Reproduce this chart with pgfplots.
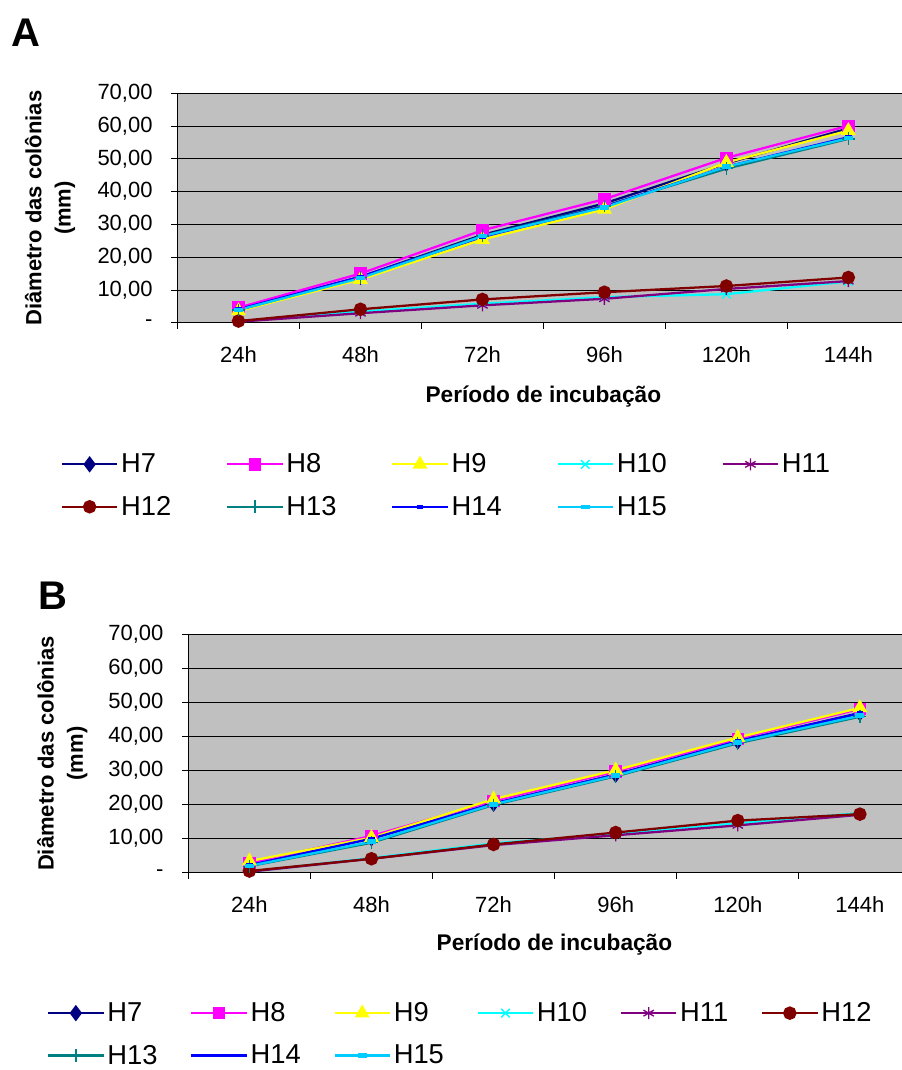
\documentclass[border=0pt]{standalone}
\usepackage{fontspec}
\setmainfont{Liberation Sans}
\usepackage{pgfplots}
\usepackage{pgfplotstable}
\pgfplotsset{compat=1.18}

\definecolor{cnavy}{HTML}{000080}
\definecolor{cmag}{HTML}{FF00FF}
\definecolor{cyel}{HTML}{FFFF00}
\definecolor{ccyan}{HTML}{00FFFF}
\definecolor{cpurp}{HTML}{800080}
\definecolor{cmaroon}{HTML}{800000}
\definecolor{cteal}{HTML}{008080}
\definecolor{cblue}{HTML}{0000FF}
\definecolor{csky}{HTML}{00CCFF}
\definecolor{plotgray}{HTML}{C0C0C0}

% diametro (mm) por hora de incubacao
\pgfplotstableread{
x  H7   H8   H9   H10  H11  H12  H13  H14  H15
0  4.0  4.6  3.6  0.4  0.3  0.5  3.9  4.1  3.9
1  14.0 15.0 13.2 3.4  2.9  4.1  13.8 14.0 13.6
2  26.8 28.2 25.4 5.8  5.3  7.1  26.5 26.2 26.4
3  36.4 37.7 34.6 7.8  7.3  9.3  35.6 35.4 35.2
4  48.6 50.3 48.9 8.7  10.3 11.2 47.0 47.6 47.6
5  59.3 60.1 58.6 12.6 12.7 13.8 56.1 56.6 56.3
}\dataA

\pgfplotstableread{
x  H7   H8   H9   H10  H11  H12  H13  H14  H15
0  2.2  2.9  3.4  0.3  0.3  0.5  1.9  2.2  2.0
1  10.1 10.8 10.3 4.3  4.1  4.1  8.8  10.0 9.1
2  20.3 21.1 21.6 8.6  8.1  8.3  19.9 20.3 20.1
3  28.8 29.7 30.1 11.4 11.0 11.8 28.3 28.8 28.5
4  38.6 39.3 39.7 14.5 13.9 15.3 38.0 38.6 38.3
5  46.9 48.1 48.4 17.5 17.0 17.2 45.8 46.8 46.1
}\dataB

\pgfplotsset{
  sH7/.style={color=cnavy, mark=diamond*, mark size=4.8pt},
  sH8/.style={color=cmag, mark=square*, mark size=3.8pt},
  sH9/.style={color=cyel, mark=triangle*, mark size=4.8pt},
  sH10/.style={color=ccyan, mark=x, mark size=4.5pt, mark options={line width=1pt}},
  sH11/.style={color=cpurp, mark=asterisk, mark size=4.5pt, mark options={line width=1pt}},
  sH12/.style={color=cmaroon, mark=*, mark size=4.2pt},
  sH13/.style={color=cteal, mark=+, mark size=4.8pt, mark options={line width=1pt}},
  sH14/.style={color=cblue, mark=-, mark size=2.4pt, mark options={line width=2.8pt}},
  sH15/.style={color=csky, mark=-, mark size=3.4pt, mark options={line width=3.4pt}},
  excel/.style={
    scale only axis,
    axis background/.style={fill=plotgray},
    axis x line=bottom, axis y line=left,
    axis line style={-, black, line width=0.8pt},
    xmin=-0.5, ymin=0, ymax=70,
    xtick={0,...,5},
    xticklabels={24h,48h,72h,96h,120h,144h},
    minor xtick={-0.5,0.5,1.5,2.5,3.5,4.5},
    major x tick style={draw=none},
    minor x tick style={black, line width=0.6pt},
    ytick={0,10,...,70},
    yticklabels={{-},{10,00},{20,00},{30,00},{40,00},{50,00},{60,00},{70,00}},
    y tick style={black, line width=0.6pt},
    tick align=outside,
    major tick length=4.5pt, minor tick length=4.5pt,
    ymajorgrids,
    major grid style={black, line width=0.6pt},
    tick label style={font=\fontsize{16.5}{19}\selectfont, inner sep=0pt},
    xticklabel style={anchor=base, yshift=-25pt},
    yticklabel style={anchor=east, xshift=-14pt},
    ylabel={Diâmetro das colônias\\(mm)},
    ylabel style={font=\fontsize{16.5}{22}\bfseries\selectfont, align=center, anchor=center, rotate=0},
    xlabel={Período de incubação},
    xlabel style={font=\fontsize{17}{20}\bfseries\selectfont, anchor=base},
    every axis plot/.append style={line width=1.7pt},
    every mark/.append style={solid},
    legend image code/.code={\draw[mark repeat=2,mark phase=2] plot coordinates {(0pt,0pt) (20.8pt,0pt) (41.6pt,0pt)};},
    legend cell align=left,
  }
}

\begin{document}
\begin{tikzpicture}
\useasboundingbox (0pt,0pt) rectangle (676.5pt,-802.5pt);

\node[font=\fontsize{30}{30}\bfseries\selectfont, inner sep=0pt] at (19.5pt,-24.4pt) {A};
\node[font=\fontsize{30}{30}\bfseries\selectfont, inner sep=0pt] at (39.75pt,-447pt) {B};

\begin{axis}[excel,
  at={(133.125pt,-242.025pt)}, anchor=south west,
  width=543.375pt, height=172.05pt,
  xmax=5.44,
  ylabel style={at={(axis description cs:-0.176,0.5)}},
  xlabel style={at={(axis description cs:0.505,-0.35)}},
  legend columns=5,
  legend style={draw=none, fill=none, at={(axis description cs:-0.1615,-0.71)}, anchor=west,
    font=\fontsize{20.5}{24}\selectfont, inner sep=0pt, row sep=12pt,
    /tikz/every even column/.append style={column sep=39pt}},
]
\addplot[sH7]  table[y=H7]  {\dataA};
\addplot[sH8]  table[y=H8]  {\dataA};
\addplot[sH9]  table[y=H9]  {\dataA};
\addplot[sH10] table[y=H10] {\dataA};
\addplot[sH11] table[y=H11] {\dataA};
\addplot[sH12] table[y=H12] {\dataA};
\addplot[sH13] table[y=H13] {\dataA};
\addplot[sH14] table[y=H14] {\dataA};
\addplot[sH15] table[y=H15] {\dataA};
\legend{H7,H8,H9,H10,H11,H12,H13,H14,H15}
\end{axis}

\begin{axis}[excel,
  at={(141.225pt,-654.525pt)}, anchor=south west,
  width=535.275pt, height=178.8pt,
  xmax=5.345,
  ylabel style={at={(axis description cs:-0.1765,0.5)}},
  xlabel style={at={(axis description cs:0.513,-0.328)}},
  legend columns=6,
  legend style={draw=none, fill=none, at={(axis description cs:-0.1984,-0.678)}, anchor=west,
    font=\fontsize{20.5}{24}\selectfont, inner sep=0pt, row sep=12pt,
    /tikz/every even column/.append style={column sep=22.5pt}},
]
\addplot[sH7]  table[y=H7]  {\dataB};
\addplot[sH8]  table[y=H8]  {\dataB};
\addplot[sH9]  table[y=H9]  {\dataB};
\addplot[sH10] table[y=H10] {\dataB};
\addplot[sH11] table[y=H11] {\dataB};
\addplot[sH12] table[y=H12] {\dataB};
\addplot[sH13] table[y=H13] {\dataB};
\addplot[sH14] table[y=H14] {\dataB};
\addplot[sH15] table[y=H15] {\dataB};
\legend{H7,H8,H9,H10,H11,H12,H13,H14,H15}
\end{axis}
\end{tikzpicture}
\end{document}
